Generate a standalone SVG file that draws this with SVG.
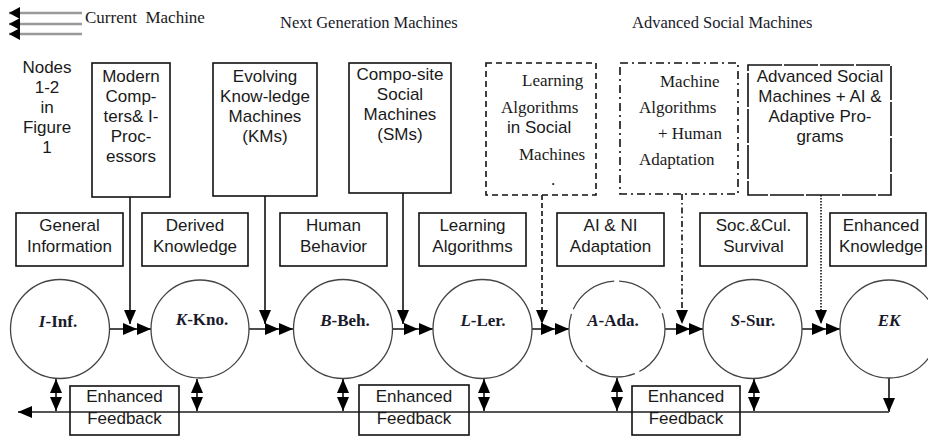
<svg xmlns="http://www.w3.org/2000/svg" width="928" height="436" viewBox="0 0 928 436">
<style>
.sans{font-family:"Liberation Sans",Arial,sans-serif;font-size:17px;fill:#1a1a1a}
.serif{font-family:"Liberation Serif","Times New Roman",serif;font-size:17px;fill:#1a1a1a}
.hdr{font-family:"Liberation Serif","Times New Roman",serif;font-size:16.5px;fill:#1a1a2a}
.ctext{font-family:"Liberation Serif","Times New Roman",serif;font-size:17px;font-weight:bold;fill:#1a1a2a}
.box{fill:none;stroke:#111;stroke-width:1.6}
.circ{fill:#fff;stroke:#444;stroke-width:1.3}
.ln{fill:none;stroke:#111;stroke-width:1.6}
</style>
<defs>
<marker id="ah" markerUnits="userSpaceOnUse" markerWidth="14" markerHeight="12" refX="14" refY="6" orient="auto">
<path d="M0,0 L14,6 L0,12 z" fill="#000" stroke="none"/>
</marker>
<marker id="ahb" markerUnits="userSpaceOnUse" markerWidth="14" markerHeight="12" refX="14" refY="6" orient="auto-start-reverse">
<path d="M0,0 L14,6 L0,12 z" fill="#000" stroke="none"/>
</marker>
<marker id="ahs" markerUnits="userSpaceOnUse" markerWidth="11" markerHeight="12" refX="11" refY="6" orient="auto">
<path d="M0,0 L11,6 L0,12 z" fill="#000" stroke="none"/>
</marker>
</defs>

<g id="legend">
<path d="M82 13 L9 13" stroke="#999" stroke-width="2.4" fill="none" marker-end="url(#ahs)"/>
<path d="M82 24 L9 24" stroke="#999" stroke-width="2.4" fill="none" marker-end="url(#ahs)"/>
<path d="M82 34 L9 34" stroke="#999" stroke-width="2.4" fill="none" marker-end="url(#ahs)"/>
<text class="serif" x="85" y="23" xml:space="preserve">Current  Machine</text>
</g>
<text class="hdr" x="280" y="28">Next Generation Machines</text>
<text class="hdr" x="632" y="28">Advanced Social Machines</text>

<g id="nodes-label">
<text class="sans" text-anchor="middle">
<tspan x="47" y="73">Nodes</tspan><tspan x="47" y="93">1-2</tspan><tspan x="47" y="113">in</tspan><tspan x="47" y="133">Figure</tspan><tspan x="47" y="153">1</tspan>
</text>
</g>

<g id="modern">
<rect class="box" x="92" y="63" width="78" height="134"/>
<text class="sans" text-anchor="middle"><tspan x="131" y="82">Modern</tspan><tspan x="131" y="102">Comp-</tspan><tspan x="131" y="122">ters&amp; I-</tspan><tspan x="131" y="142">Proc-</tspan><tspan x="131" y="162">essors</tspan></text>
</g>
<g id="evolving">
<rect class="box" x="213" y="63" width="104" height="133"/>
<text class="sans" text-anchor="middle"><tspan x="265" y="82">Evolving</tspan><tspan x="265" y="102">Know-ledge</tspan><tspan x="265" y="122">Machines</tspan><tspan x="265" y="142">(KMs)</tspan></text>
</g>
<g id="composite">
<rect class="box" x="349" y="63" width="102" height="130"/>
<text class="sans" text-anchor="middle"><tspan x="400" y="80">Compo-site</tspan><tspan x="400" y="100">Social</tspan><tspan x="400" y="120">Machines</tspan><tspan x="400" y="140">(SMs)</tspan></text>
</g>
<g id="learning-sm">
<rect class="box" x="486" y="63" width="110" height="132" stroke-dasharray="6 4"/>
<text class="serif" x="522" y="86">Learning</text>
<text class="serif" x="501" y="113">Algorithms</text>
<text class="sans" x="507" y="133">in Social</text>
<text class="serif" x="519" y="160">Machines</text>
<text class="serif" x="551" y="185">.</text>
</g>
<g id="machine-alg">
<rect class="box" x="620" y="63" width="118" height="131" stroke-dasharray="8 4 2 4"/>
<text class="serif" x="660" y="87">Machine</text>
<text class="serif" x="639" y="113">Algorithms</text>
<text class="serif" x="658" y="139">+ Human</text>
<text class="serif" x="639" y="165">Adaptation</text>
</g>
<g id="advanced">
<rect class="box" x="748" y="65" width="143" height="130" stroke-dasharray="34 2"/>
<text class="sans" text-anchor="middle"><tspan x="820" y="82">Advanced Social</tspan><tspan x="820" y="102">Machines + AI &amp;</tspan><tspan x="820" y="122">Adaptive Pro-</tspan><tspan x="820" y="142">grams</tspan></text>
</g>

<g id="general"><rect class="box" x="16" y="213" width="107" height="53"/>
<text class="sans" text-anchor="middle"><tspan x="69.5" y="231">General</tspan><tspan x="69.5" y="252">Information</tspan></text></g>
<g id="derived"><rect class="box" x="142" y="213" width="106" height="53"/>
<text class="sans" text-anchor="middle"><tspan x="195" y="231">Derived</tspan><tspan x="195" y="252">Knowledge</tspan></text></g>
<g id="human"><rect class="box" x="280" y="213" width="107" height="53"/>
<text class="sans" text-anchor="middle"><tspan x="333.5" y="231">Human</tspan><tspan x="333.5" y="252">Behavior</tspan></text></g>
<g id="learnalg"><rect class="box" x="419" y="213" width="107" height="53"/>
<text class="sans" text-anchor="middle"><tspan x="472.5" y="231">Learning</tspan><tspan x="472.5" y="252">Algorithms</tspan></text></g>
<g id="aini"><rect class="box" x="557" y="213" width="107" height="53"/>
<text class="sans" text-anchor="middle"><tspan x="610.5" y="231">AI &amp; NI</tspan><tspan x="610.5" y="252">Adaptation</tspan></text></g>
<g id="soccul"><rect class="box" x="700" y="213" width="107" height="53"/>
<text class="sans" text-anchor="middle"><tspan x="753.5" y="231">Soc.&amp;Cul.</tspan><tspan x="753.5" y="252">Survival</tspan></text></g>
<g id="enhknow"><rect class="box" x="830" y="213" width="96" height="53"/>
<text class="sans" text-anchor="middle"><tspan x="881" y="231">Enhanced</tspan><tspan x="881" y="252">Knowledge</tspan></text></g>

<g id="connectors">
<path class="ln" d="M130 197 L130 324" stroke="#888" marker-end="url(#ah)"/>
<path class="ln" d="M265 196 L265 324" marker-end="url(#ah)"/>
<path class="ln" d="M403 193 L403 324" stroke="#aaa" marker-end="url(#ah)"/>
<path class="ln" d="M542 195 L542 324" stroke-dasharray="5 3" marker-end="url(#ah)"/>
<path class="ln" d="M682 194 L682 324" stroke-dasharray="6 3 1.5 3" marker-end="url(#ah)"/>
<path class="ln" d="M821 195 L821 324" stroke-dasharray="1.5 1.5" marker-end="url(#ah)"/>

<path class="ln" d="M110 329 L137 329 L151 329" marker-mid="url(#ah)" marker-end="url(#ah)"/>
<path class="ln" d="M249 329 L279 329 L293 329" marker-mid="url(#ah)" marker-end="url(#ah)"/>
<path class="ln" d="M393 329 L418 329 L433 329" marker-mid="url(#ah)" marker-end="url(#ah)"/>
<path class="ln" d="M532 329 L555 329 L569 329" marker-mid="url(#ah)" marker-end="url(#ah)"/>
<path class="ln" d="M665 329 L690 329 L703 329" marker-mid="url(#ah)" marker-end="url(#ah)"/>
<path class="ln" d="M802 329 L826 329 L840 329" marker-mid="url(#ah)" marker-end="url(#ah)"/>

<path class="ln" d="M56 411 L56 379" marker-start="url(#ahb)" marker-end="url(#ahb)"/>
<path class="ln" d="M197 411 L197 379" marker-start="url(#ahb)" marker-end="url(#ahb)"/>
<path class="ln" d="M343 411 L343 379" marker-start="url(#ahb)" marker-end="url(#ahb)"/>
<path class="ln" d="M484 411 L484 379" marker-start="url(#ahb)" marker-end="url(#ahb)"/>
<path class="ln" d="M617 411 L617 378" marker-start="url(#ahb)" marker-end="url(#ahb)"/>
<path class="ln" d="M754 411 L754 379" marker-start="url(#ahb)" marker-end="url(#ahb)"/>
<path class="ln" d="M889 378 L889 412" stroke="#555" marker-end="url(#ah)"/>
<path d="M889 412 L18 412" fill="none" stroke="#555" stroke-width="2" marker-end="url(#ah)"/>
</g>

<g id="I"><circle class="circ" cx="60" cy="329" r="49.5"/>
<text class="ctext" x="58" y="327" text-anchor="middle"><tspan font-style="italic">I</tspan>-Inf.</text></g>
<g id="K"><circle class="circ" cx="200" cy="329" r="49"/>
<text class="ctext" x="202" y="325" text-anchor="middle"><tspan font-style="italic">K</tspan>-Kno.</text></g>
<g id="B"><circle class="circ" cx="343" cy="329" r="49.5"/>
<text class="ctext" x="345" y="326" text-anchor="middle"><tspan font-style="italic">B</tspan>-Beh.</text></g>
<g id="L"><circle class="circ" cx="482.5" cy="329" r="49.5"/>
<text class="ctext" x="483" y="326" text-anchor="middle"><tspan font-style="italic">L</tspan>-Ler.</text></g>
<g id="A"><circle class="circ" cx="617" cy="329" r="48" stroke-dasharray="52 5"/>
<text class="ctext" x="613" y="326" text-anchor="middle"><tspan font-style="italic">A</tspan>-Ada.</text></g>
<g id="S"><circle class="circ" cx="752.5" cy="329" r="49.5"/>
<text class="ctext" x="753" y="326" text-anchor="middle"><tspan font-style="italic">S</tspan>-Sur.</text></g>
<g id="EK"><circle class="circ" cx="889" cy="329" r="49"/>
<text class="ctext" x="889" y="326" text-anchor="middle" font-style="italic">EK</text></g>

<g id="fb1"><rect class="box" x="70" y="386" width="109" height="49"/>
<text class="sans" text-anchor="middle"><tspan x="124.5" y="402">Enhanced</tspan><tspan x="124.5" y="424">Feedback</tspan></text></g>
<g id="fb2"><rect class="box" x="359" y="385" width="110" height="50"/>
<text class="sans" text-anchor="middle"><tspan x="414" y="402">Enhanced</tspan><tspan x="414" y="424">Feedback</tspan></text></g>
<g id="fb3"><rect class="box" x="632" y="386" width="108" height="49"/>
<text class="sans" text-anchor="middle"><tspan x="686" y="402">Enhanced</tspan><tspan x="686" y="424">Feedback</tspan></text></g>
</svg>
